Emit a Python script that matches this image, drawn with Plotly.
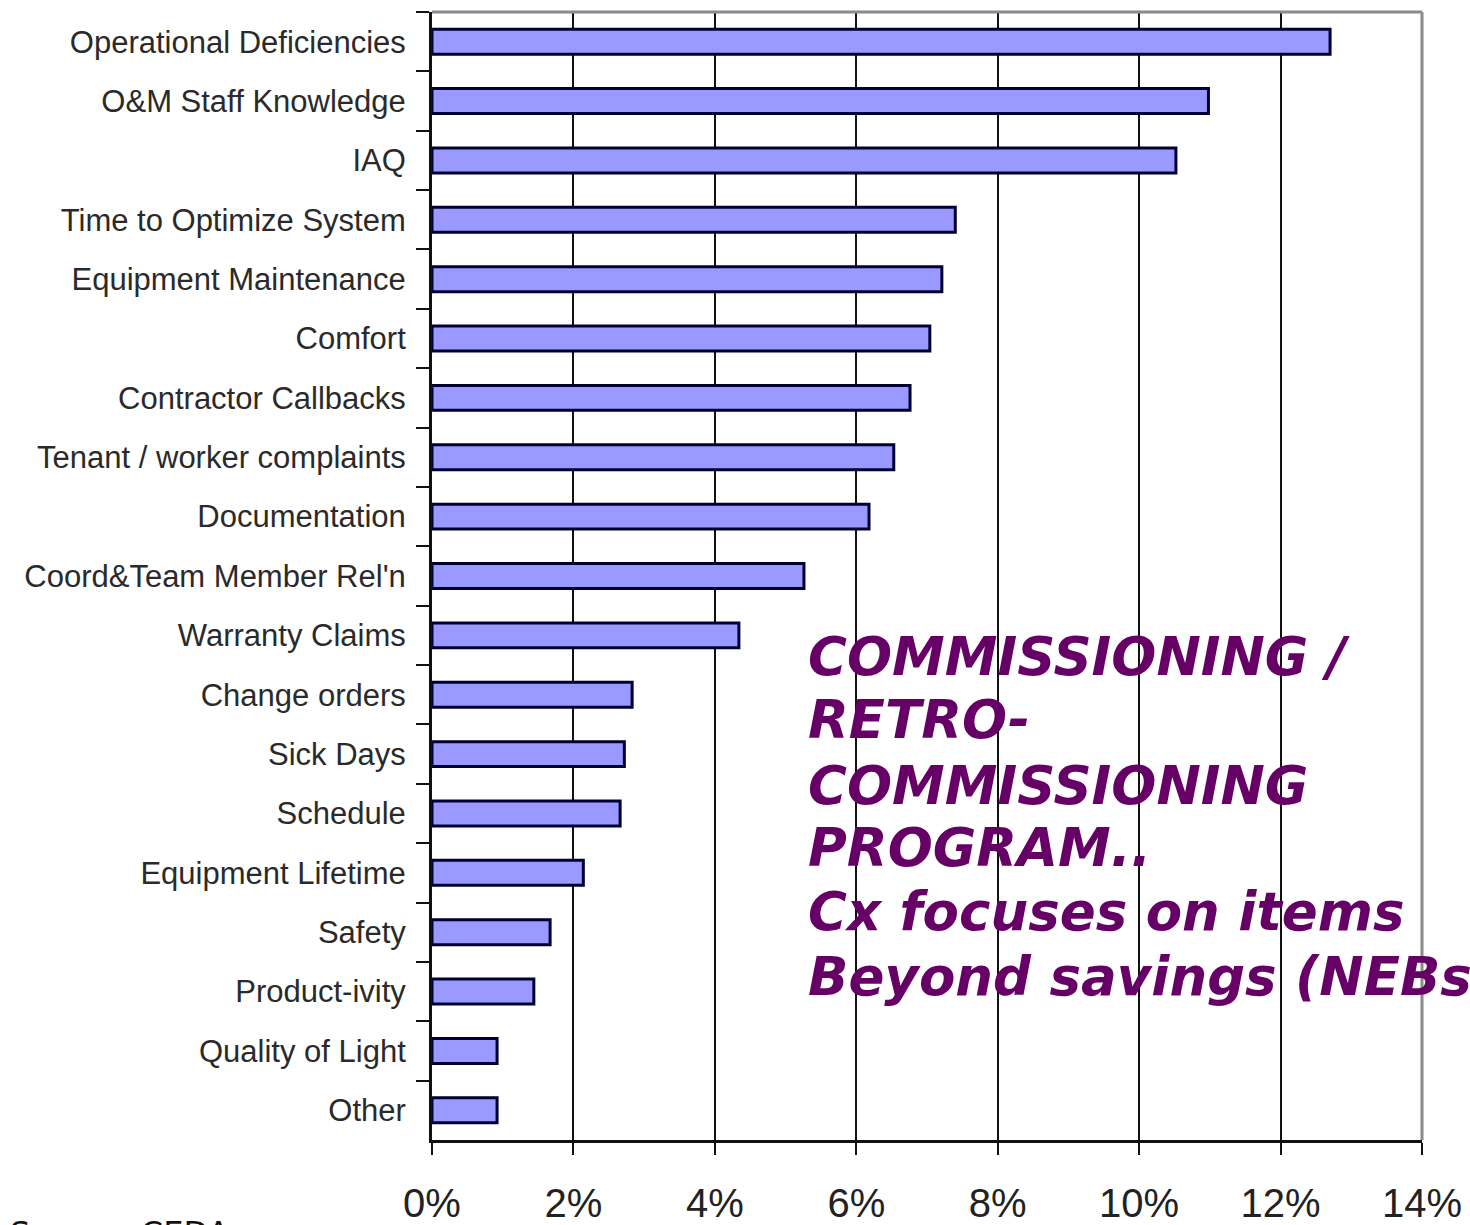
import plotly.graph_objects as go

# Non-energy benefit categories, top to bottom
categories = [
    "Operational Deficiencies",
    "O&M Staff Knowledge",
    "IAQ",
    "Time to Optimize System",
    "Equipment Maintenance",
    "Comfort",
    "Contractor Callbacks",
    "Tenant / worker complaints",
    "Documentation",
    "Coord&Team Member Rel'n",
    "Warranty Claims",
    "Change orders",
    "Sick Days",
    "Schedule",
    "Equipment Lifetime",
    "Safety",
    "Product-ivity",
    "Quality of Light",
    "Other",
]

# Share of responses (%)
shares = [12.7, 10.98, 10.52, 7.4, 7.21, 7.04, 6.76, 6.53, 6.18, 5.26,
          4.34, 2.83, 2.72, 2.66, 2.14, 1.67, 1.44, 0.92, 0.92]

x_ticks = [0, 2, 4, 6, 8, 10, 12, 14]
x_tick_labels = [f"{v}%" for v in x_ticks]

note_lines = [
    "COMMISSIONING /",
    "RETRO-",
    "COMMISSIONING",
    "PROGRAM..",
    "Cx focuses on items",
    "Beyond savings (NEBs",
]
source_text = "Source: CEDA"

W, H = 1470, 1225
L, R, T, B = 432, 48, 12, 85
plot_h = H - T - B
plot_w = W - L - R

fig = go.Figure(
    go.Bar(
        x=shares,
        y=categories,
        orientation="h",
        marker=dict(color="#9999FF", line=dict(color="#000033", width=3)),
        hoverinfo="x+y",
    )
)

fig.update_layout(
    width=W,
    height=H,
    margin=dict(l=L, r=R, t=T, b=B, pad=0, autoexpand=False),
    paper_bgcolor="white",
    plot_bgcolor="white",
    bargap=0.58,
    showlegend=False,
    font=dict(family="Liberation Sans, Arial, sans-serif", color="#222222"),
)

fig.update_xaxes(
    range=[0, 14],
    tickvals=x_ticks,
    ticktext=x_tick_labels,
    showgrid=True,
    gridcolor="#111111",
    gridwidth=2,
    showline=True,
    linecolor="#111111",
    linewidth=3,
    ticks="outside",
    ticklen=12,
    tickwidth=2,
    tickcolor="#111111",
    tickfont=dict(size=40, color="#222222"),
    ticklabelstandoff=14,
    zeroline=False,
    automargin=False,
    fixedrange=True,
)

fig.update_yaxes(
    categoryorder="array",
    categoryarray=categories,
    autorange="reversed",
    showgrid=False,
    showline=True,
    linecolor="#111111",
    linewidth=3,
    ticks="outside",
    tickson="boundaries",
    ticklen=13,
    tickwidth=2,
    tickcolor="#111111",
    tickfont=dict(size=31, color="#2a2a2a"),
    ticklabelstandoff=17,
    automargin=False,
    fixedrange=True,
)

# Grey frame on the top and right of the plotting area
fig.add_shape(type="line", xref="paper", yref="paper", x0=0, x1=1, y0=1, y1=1,
              line=dict(color="#8a8a8a", width=3), layer="above")
fig.add_shape(type="line", xref="paper", yref="paper", x0=1, x1=1, y0=0, y1=1,
              line=dict(color="#8a8a8a", width=3), layer="above")

# Program note, one line per annotation
note_x_px = 806
note_centers_px = [656, 719, 785, 847, 911, 976]
for line, cy in zip(note_lines, note_centers_px):
    fig.add_annotation(
        text=f"<b><i>{line}</i></b>",
        xref="paper", yref="paper",
        x=(note_x_px - L) / plot_w,
        y=(H - B - cy) / plot_h,
        xanchor="left", yanchor="middle",
        showarrow=False,
        font=dict(family="DejaVu Sans, Verdana, sans-serif", size=53, color="#660066"),
    )

fig.add_annotation(
    text=source_text,
    xref="paper", yref="paper",
    x=-(L - 8) / plot_w,
    y=(H - B - 1233) / plot_h,
    xanchor="left", yanchor="middle",
    showarrow=False,
    font=dict(family="DejaVu Sans, Verdana, sans-serif", size=32, color="#111111"),
)

fig.write_html("out.html", config={"displayModeBar": False})
